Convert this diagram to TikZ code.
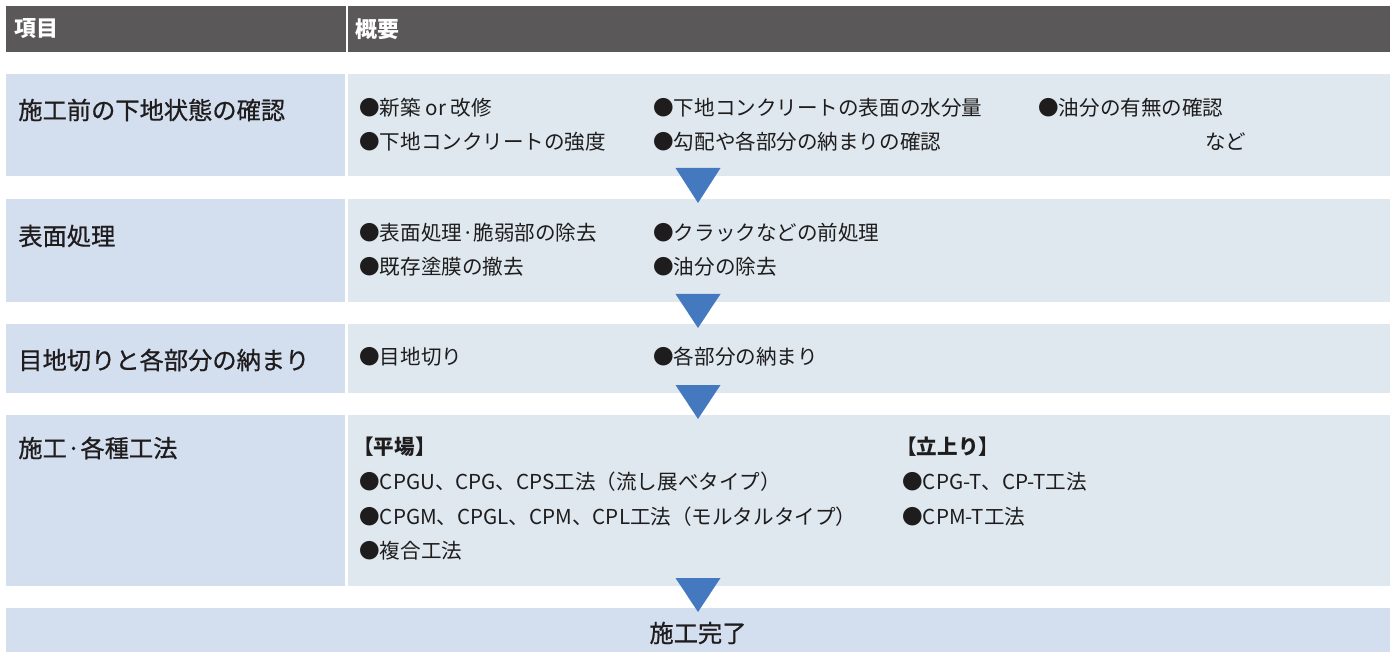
\documentclass[tikz,border=0pt]{standalone}
\usepackage{fontspec}
\setmainfont{Noto Sans CJK JP}
\newfontfamily\labfont[FakeBold=0.7]{Noto Sans CJK JP}
\usetikzlibrary{calc,positioning}
\definecolor{CHD}{RGB}{90,88,88}
\definecolor{CITM}{RGB}{211,222,239}
\definecolor{CSUM}{RGB}{223,232,239}
\definecolor{CARW}{RGB}{68,121,192}
\definecolor{CTXT}{RGB}{30,28,28}

\begin{document}
\begin{tikzpicture}[
  rowbox/.style={fill=CSUM,inner sep=0pt,outer sep=0pt,anchor=north west,minimum width=27.68cm},
  itembox/.style={fill=CITM,inner sep=0pt,outer sep=0pt,anchor=north west,minimum width=6.78cm},
  headtxt/.style={anchor=west,inner sep=0pt,text=white,font=\fontsize{12.5}{15}\selectfont\bfseries},
  itemtxt/.style={anchor=west,inner sep=0pt,text=CTXT,font=\labfont\fontsize{13.8}{16}\selectfont},
  sumtxt/.style={anchor=west,inner sep=0pt,text=CTXT,font=\fontsize{11.7}{14}\selectfont},
  flowtri/.style={fill=CARW}]
  \useasboundingbox (0.0000cm,0.0000cm) rectangle (27.8800cm,13.0400cm);
  % header
  \node[rowbox,fill=CHD,minimum height=0.9200cm] (head) at (0.1200cm,12.9200cm) {};
  \fill[white] (6.9200cm,12.0000cm) rectangle (6.9500cm,12.9200cm);
  \node[headtxt] (hitem) at (0.2800cm,12.4600cm) {項目};
  \node[headtxt] (hsum) at (7.1000cm,12.4600cm) {概要};
  % row cells
  \node[rowbox,minimum height=2.0400cm] (row1) at (0.1200cm,11.5600cm) {};
  \node[itembox,minimum height=2.0400cm] (item1) at (row1.north west) {};
  \fill[white] (item1.south east) rectangle ([xshift=0.0600cm]item1.north east);
  \node[rowbox,minimum height=2.0600cm] (row2) at (0.1200cm,9.0600cm) {};
  \node[itembox,minimum height=2.0600cm] (item2) at (row2.north west) {};
  \fill[white] (item2.south east) rectangle ([xshift=0.0600cm]item2.north east);
  \node[rowbox,minimum height=1.3800cm] (row3) at (0.1200cm,6.5600cm) {};
  \node[itembox,minimum height=1.3800cm] (item3) at (row3.north west) {};
  \fill[white] (item3.south east) rectangle ([xshift=0.0600cm]item3.north east);
  \node[rowbox,minimum height=3.4200cm] (row4) at (0.1200cm,4.7400cm) {};
  \node[itembox,minimum height=3.4200cm] (item4) at (row4.north west) {};
  \fill[white] (item4.south east) rectangle ([xshift=0.0600cm]item4.north east);
  \node[rowbox,fill=CITM,minimum height=0.8800cm] (done) at (0.1200cm,0.8800cm) {};
  % flow triangles
  \fill[flowtri] ($(row1.south)+(-0.45cm,0.16cm)$) -- ($(row1.south)+(0.45cm,0.16cm)$) -- ($(row2.north)+(0cm,-0.08cm)$) -- cycle;
  \fill[flowtri] ($(row2.south)+(-0.45cm,0.16cm)$) -- ($(row2.south)+(0.45cm,0.16cm)$) -- ($(row3.north)+(0cm,-0.08cm)$) -- cycle;
  \fill[flowtri] ($(row3.south)+(-0.45cm,0.16cm)$) -- ($(row3.south)+(0.45cm,0.16cm)$) -- ($(row4.north)+(0cm,-0.08cm)$) -- cycle;
  \fill[flowtri] ($(row4.south)+(-0.45cm,0.16cm)$) -- ($(row4.south)+(0.45cm,0.16cm)$) -- ($(done.north)+(0cm,-0.08cm)$) -- cycle;
  % item labels
  \node[itemtxt] (lab1) at (0.3600cm,10.8400cm) {施工前の下地状態の確認};
  \node[itemtxt] (lab2) at (0.3600cm,8.3200cm) {表面処理};
  \node[itemtxt] (lab3) at (0.3600cm,5.8400cm) {目地切りと各部分の納まり};
  \node[itemtxt] (lab4) at (0.3600cm,4.0800cm) {施工·各種工法};
  \node[itemtxt,anchor=center] (labdone) at (13.9600cm,0.3800cm) {施工完了};
  % summaries
  \node[sumtxt] (s1a) at (7.1800cm,10.8800cm) {●新築 or 改修};
  \node[sumtxt] (s1b) at (13.0600cm,10.8800cm) {●下地コンクリートの表面の水分量};
  \node[sumtxt] (s1c) at (20.7600cm,10.8800cm) {●油分の有無の確認};
  \node[sumtxt] (s1d) at (7.1800cm,10.2000cm) {●下地コンクリートの強度};
  \node[sumtxt] (s1e) at (13.0600cm,10.2000cm) {●勾配や各部分の納まりの確認};
  \node[sumtxt] (s1f) at (24.1000cm,10.2000cm) {など};
  \node[sumtxt] (s2a) at (7.1800cm,8.3800cm) {●表面処理·脆弱部の除去};
  \node[sumtxt] (s2b) at (13.0600cm,8.3800cm) {●クラックなどの前処理};
  \node[sumtxt] (s2c) at (7.1800cm,7.7000cm) {●既存塗膜の撤去};
  \node[sumtxt] (s2d) at (13.0600cm,7.7000cm) {●油分の除去};
  \node[sumtxt] (s3a) at (7.1800cm,5.9000cm) {●目地切り};
  \node[sumtxt] (s3b) at (13.0600cm,5.9000cm) {●各部分の納まり};
  \node[sumtxt,font=\fontsize{11.7}{14}\selectfont\bfseries] (s4h) at (7.0600cm,4.1000cm) {【平場】};
  \node[sumtxt] (s4a) at (7.1800cm,3.4000cm) {●CPGU、CPG、CPS工法（流し展べタイプ）};
  \node[sumtxt] (s4b) at (7.1800cm,2.7000cm) {●CPGM、CPGL、CPM、CPL工法（モルタルタイプ）};
  \node[sumtxt] (s4c) at (7.1800cm,2.0200cm) {●複合工法};
  \node[sumtxt,font=\fontsize{11.7}{14}\selectfont\bfseries] (s4i) at (17.9200cm,4.1000cm) {【立上り】};
  \node[sumtxt] (s4d) at (18.0400cm,3.4000cm) {●CPG-T、CP-T工法};
  \node[sumtxt] (s4e) at (18.0400cm,2.7000cm) {●CPM-T工法};
\end{tikzpicture}
\end{document}
